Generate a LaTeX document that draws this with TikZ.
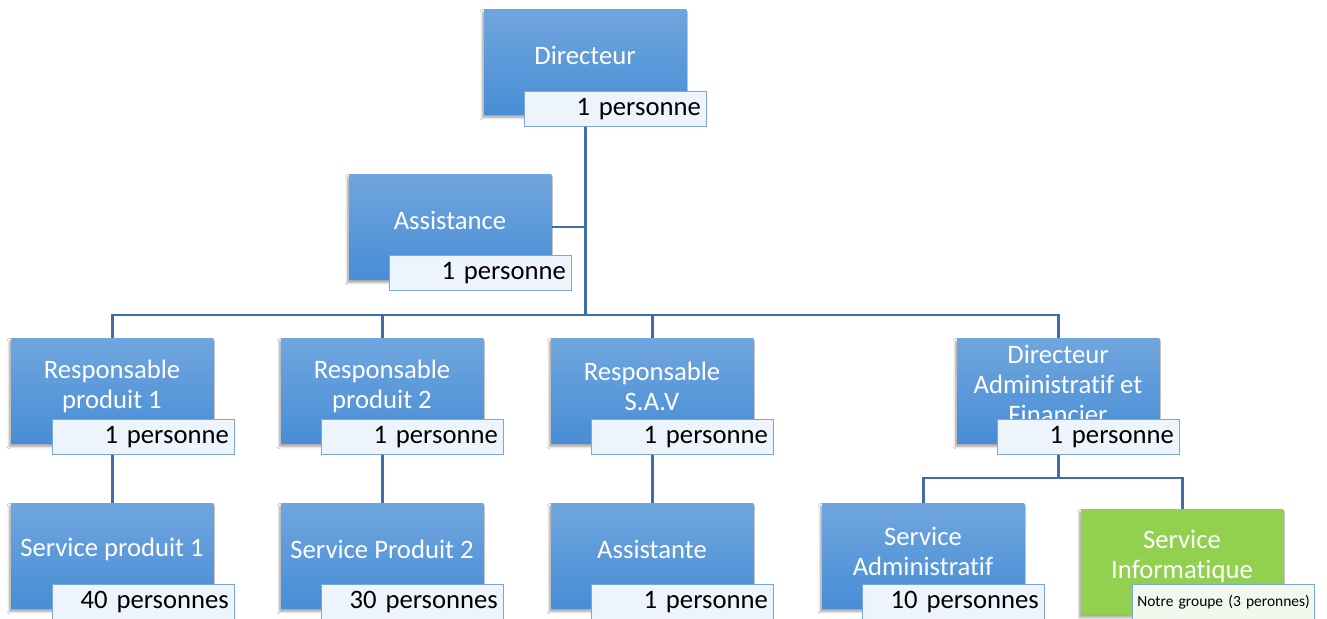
\documentclass[tikz,border=0pt]{standalone}
\usepackage{fontspec}
\setmainfont{Carlito}[RawFeature={-liga;-clig;-dlig}]
\usetikzlibrary{shadows.blur}
\definecolor{boxtop}{RGB}{112,166,222}
\definecolor{boxbot}{RGB}{72,141,214}
\definecolor{labdraw}{RGB}{122,166,216}
\definecolor{labfill}{RGB}{237,244,251}
\definecolor{linec}{RGB}{62,110,165}
\definecolor{greenbox}{RGB}{146,208,80}
\definecolor{greenlab}{RGB}{243,248,238}
\pgfdeclarelayer{bg}
\pgfsetlayers{bg,main}
\tikzset{
  orgbox/.style={anchor=north west, minimum width=151.5pt, minimum height=78.75pt, inner sep=0pt,
    shading=axis, top color=boxtop, bottom color=boxbot,
    blur shadow={shadow xshift=-1.2pt, shadow yshift=-2.2pt, shadow blur radius=2pt, shadow opacity=40}},
  greenorg/.style={orgbox, shading=none, fill=greenbox, top color=greenbox, bottom color=greenbox},
  boxtxt/.style={text=white, align=center, inner sep=0pt, font=\fontsize{20}{22.5}\selectfont},
  countlab/.style={anchor=north west, draw=labdraw, line width=0.8pt, fill=labfill,
    minimum width=136.5pt, minimum height=26.25pt, text width=128pt, align=right,
    inner xsep=4.25pt, inner ysep=0pt, font=\fontsize{20}{22}\selectfont},
  smallab/.style={countlab, fill=greenlab, text width=132pt, inner xsep=2.25pt, align=center, font=\fontsize{11.6}{14}\selectfont},
  conn/.style={draw=linec, line width=1.9pt}
}
\begin{document}
\begin{tikzpicture}[x=0.75pt,y=-0.75pt]
\useasboundingbox (0,0) rectangle (1327,618);
\clip (0,0) rectangle (1327,618);
% boxes
\node[orgbox] (dir) at (484,9) {};
\node[boxtxt] (tdir) at (585,55) {Directeur};
\node[countlab] (ldir) at (524,91) {1 personne};

\node[orgbox] (asst) at (349,174) {};
\node[boxtxt] (tasst) at (450,220) {Assistance};
\node[countlab] (lasst) at (389,255) {1 personne};

\node[orgbox] (rp1) at (11,338) {};
\node[boxtxt] (trp1) at (112,386) {Responsable\\produit 1};
\node[countlab] (lrp1) at (52,419) {1 personne};

\node[orgbox] (rp2) at (281,338) {};
\node[boxtxt] (trp2) at (382,386) {Responsable\\produit 2};
\node[countlab] (lrp2) at (321,419) {1 personne};

\node[orgbox] (rsav) at (551,338) {};
\node[boxtxt] (trsav) at (652,386) {Responsable\\S.A.V};
\node[countlab] (lrsav) at (591,419) {1 personne};

\node[orgbox] (daf) at (957,338) {};
\begin{scope}
\clip (957,338) rectangle (1159,443);
\node[boxtxt] (tdaf) at (1058,384) {Directeur\\Administratif et\\Financier};
\end{scope}
\node[countlab] (ldaf) at (997,419) {1 personne};

\node[orgbox] (sp1) at (11,503) {};
\node[boxtxt] (tsp1) at (112,549) {Service produit 1};
\node[countlab] (lsp1) at (52,584) {40 personnes};

\node[orgbox] (sp2) at (281,503) {};
\node[boxtxt] (tsp2) at (382,549) {Service Produit 2};
\node[countlab] (lsp2) at (321,584) {30 personnes};

\node[orgbox] (asst2) at (551,503) {};
\node[boxtxt] (tasst2) at (652,549) {Assistante};
\node[countlab] (lasst2) at (591,584) {1 personne};

\node[orgbox] (sadm) at (822,503) {};
\node[boxtxt] (tsadm) at (923,551) {Service\\Administratif};
\node[countlab] (lsadm) at (862,584) {10 personnes};

\node[greenorg] (sinf) at (1081,509) {};
\node[boxtxt] (tsinf) at (1182,556) {Service\\Informatique};
\node[smallab] (lsinf) at (1132,584) {Notre groupe (3 peronnes)};

\coordinate (bus) at (0,315);
\coordinate (dbus) at (0,478);
\begin{pgfonlayer}{bg}
\fill[white] (0,0) rectangle (1327,618);
\draw[conn] (dir.south) -- (dir.south |- bus);
\draw[conn] (asst.east) -- (asst.east -| dir.south);
\draw[conn] (rp1.north) -- (rp1.north |- bus) -- (daf.north |- bus) -- (daf.north);
\draw[conn] (rp2.north) -- (rp2.north |- bus);
\draw[conn] (rsav.north) -- (rsav.north |- bus);
\draw[conn] (rp1.south) -- (sp1.north);
\draw[conn] (rp2.south) -- (sp2.north);
\draw[conn] (rsav.south) -- (asst2.north);
\draw[conn] (daf.south) -- (daf.south |- dbus);
\draw[conn] (sadm.north) -- (sadm.north |- dbus) -- (sinf.north |- dbus) -- (sinf.north);
\end{pgfonlayer}
\end{tikzpicture}
\end{document}
